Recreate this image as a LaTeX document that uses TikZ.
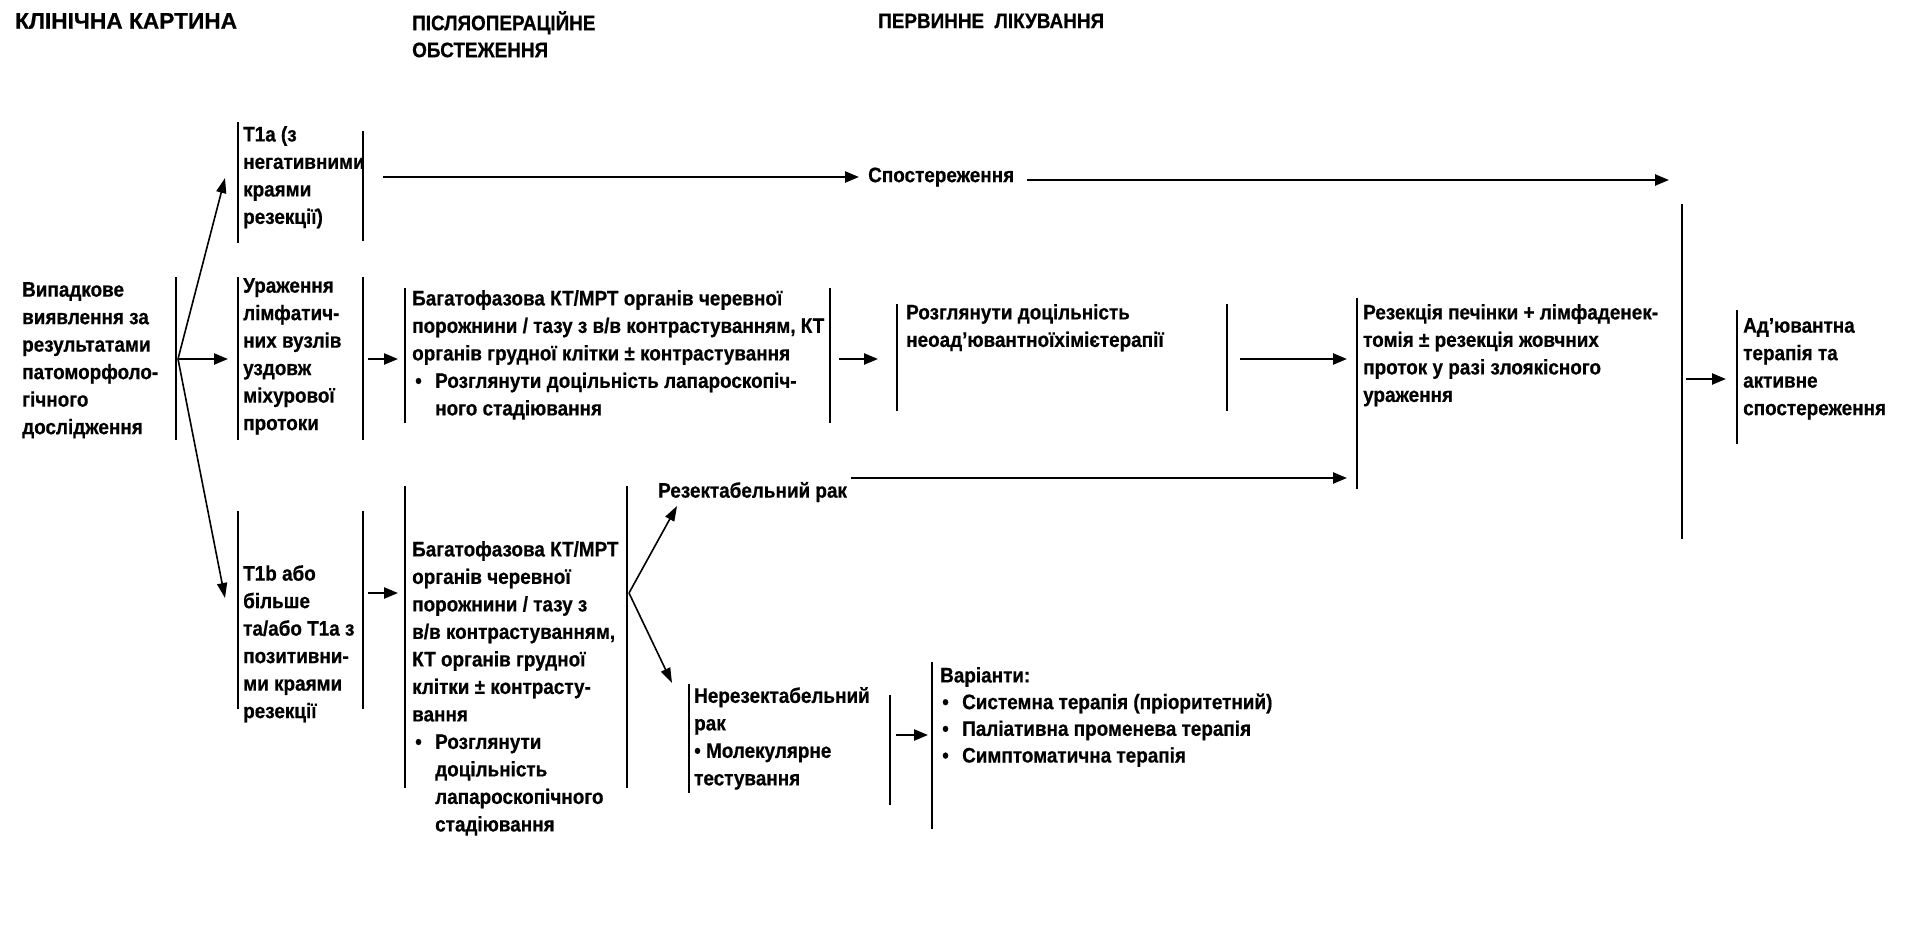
\documentclass[tikz,border=0pt]{standalone}
\usepackage{fontspec}
\setmainfont{Liberation Sans}[FakeStretch=0.9, BoldFeatures={FakeBold=0.6}]
\newfontfamily\widefont{Liberation Sans}[BoldFeatures={FakeBold=0.6}]
\usetikzlibrary{arrows.meta}
\begin{document}
\begin{tikzpicture}[x=1pt,y=-1pt,
  txt/.style={anchor=north west, align=left, inner sep=0pt, font=\fontsize{21}{27.5}\selectfont\bfseries},
  hdr/.style={anchor=west, align=left, inner sep=0pt, font=\fontsize{21}{26}\selectfont\bfseries},
  bar/.style={line width=2.5pt},
  arr/.style={line width=2.4pt, -{Triangle[length=14pt,width=11pt]}},
  fan/.style={line width=1.6pt, -{Triangle[length=15pt,width=10pt]}},
]
\useasboundingbox (0,0) rectangle (1906,924);

% headers
\node[hdr, font=\widefont\fontsize{22.7}{26}\selectfont\bfseries] (h1) at (15,21) {КЛІНІЧНА КАРТИНА};
\node[hdr, anchor=north west, font=\fontsize{21}{27}\selectfont\bfseries] (h2) at (412,11) {ПІСЛЯОПЕРАЦІЙНЕ\\ОБСТЕЖЕННЯ};
\node[hdr] (h3) at (878,21) {ПЕРВИННЕ\ \ ЛІКУВАННЯ};

% text nodes
\node[txt] (start) at (22,282) {Випадкове\\виявлення за\\результатами\\патоморфоло-\\гічного\\дослідження};
\node[txt] (t1a) at (243,126) {T1a (з\\негативними\\краями\\резекції)};
\node[txt] (lymph) at (243,278) {Ураження\\лімфатич-\\них вузлів\\уздовж\\міхурової\\протоки};
\node[txt] (ct1) at (412,290) {Багатофазова КТ/МРТ органів черевної\\порожнини / тазу з в/в контрастуванням, КТ\\органів грудної клітки ± контрастування\\\hspace*{3pt}\makebox[20pt][l]{•}Розглянути доцільність лапароскопіч-\\\hspace*{23pt}ного стадіювання};
\node[txt] (neo) at (906,304) {Розглянути доцільність\\неоад’ювантноїхімієтерапії};
\node[txt] (resec) at (1363,304) {Резекція печінки + лімфаденек-\\томія ± резекція жовчних\\проток у разі злоякісного\\ураження};
\node[txt] (adj) at (1743,318) {Ад’ювантна\\терапія та\\активне\\спостереження};
\node[hdr] (obs) at (868,177) {Спостереження};
\node[hdr] (resable) at (658,492) {Резектабельний рак};
\node[txt] (t1b) at (243,565) {T1b або\\більше\\та/або T1a з\\позитивни-\\ми краями\\резекції};
\node[txt] (ct2) at (412,541) {Багатофазова КТ/МРТ\\органів черевної\\порожнини / тазу з\\в/в контрастуванням,\\КТ органів грудної\\клітки ± контрасту-\\вання\\\hspace*{3pt}\makebox[20pt][l]{•}Розглянути\\\hspace*{23pt}доцільність\\\hspace*{23pt}лапароскопічного\\\hspace*{23pt}стадіювання};
\node[txt] (unres) at (694,687) {Нерезектабельний\\рак\\• Молекулярне\\тестування};
\node[txt, font=\fontsize{21}{26.7}\selectfont\bfseries] (opts) at (940,667) {Варіанти:\\\hspace*{2pt}\makebox[20pt][l]{•}Системна терапія (пріоритетний)\\\hspace*{2pt}\makebox[20pt][l]{•}Паліативна променева терапія\\\hspace*{2pt}\makebox[20pt][l]{•}Симптоматична терапія};

% bars
\draw[bar] (176,277) -- (176,440);
\draw[bar] (238,122) -- (238,243);
\draw[bar] (363,131) -- (363,241);
\draw[bar] (238,277) -- (238,440);
\draw[bar] (363,277) -- (363,440);
\draw[bar] (405,288) -- (405,423);
\draw[bar] (830,288) -- (830,423);
\draw[bar] (897,304) -- (897,411);
\draw[bar] (1227,304) -- (1227,411);
\draw[bar] (1357,298) -- (1357,489);
\draw[bar] (1682,204) -- (1682,539);
\draw[bar] (1737,310) -- (1737,444);
\draw[bar] (238,511) -- (238,709);
\draw[bar] (363,511) -- (363,709);
\draw[bar] (405,486) -- (405,788);
\draw[bar] (627,486) -- (627,788);
\draw[bar] (689,684) -- (689,793);
\draw[bar] (890,695) -- (890,805);
\draw[bar] (932,662) -- (932,829);

% connector end points
\coordinate (fanA) at (178,359);
\coordinate (fanAup) at (225,178);
\coordinate (fanAmid) at (228,359);
\coordinate (fanAdn) at (225,598);
\coordinate (fanB) at (629,593);
\coordinate (fanBup) at (677,506);
\coordinate (fanBdn) at (672,683);

\draw[fan] (fanA) -- (fanAup);
\draw[fan] (fanA) -- (fanAdn);
\draw[arr] (fanA) -- (fanAmid);
\draw[fan] (fanB) -- (fanBup);
\draw[fan] (fanB) -- (fanBdn);

\coordinate (o1) at (383,177);
\coordinate (o2) at (1027,180);
\coordinate (o3) at (1669,180);
\draw[arr, shorten >=9pt] (o1) -- (obs.west);
\draw[arr] (o2) -- (o3);

\coordinate (l1) at (368,359);
\coordinate (l2) at (398,359);
\draw[arr] (l1) -- (l2);
\coordinate (c1) at (839,359);
\coordinate (c2) at (878,359);
\draw[arr] (c1) -- (c2);
\coordinate (n1) at (1240,359);
\coordinate (n2) at (1347,359);
\draw[arr] (n1) -- (n2);
\coordinate (r1) at (1686,379);
\coordinate (r2) at (1726,379);
\draw[arr] (r1) -- (r2);
\coordinate (re1) at (851,478);
\coordinate (re2) at (1347,478);
\draw[arr] (re1) -- (re2);
\coordinate (b1) at (368,593);
\coordinate (b2) at (398,593);
\draw[arr] (b1) -- (b2);
\coordinate (u1) at (896,735);
\coordinate (u2) at (928,735);
\draw[arr] (u1) -- (u2);
\end{tikzpicture}
\end{document}
